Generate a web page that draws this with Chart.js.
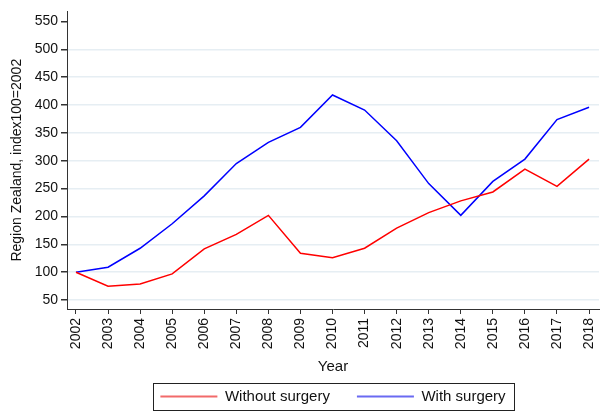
<!DOCTYPE html>
<html lang="en">
<head>
    <meta charset="UTF-8">
    <title>Region Zealand index</title>
    <script src="https://cdn.jsdelivr.net/npm/chart.js"></script>
    <style>
        body { margin: 0; background: #fff; }
        #wrap { width: 600px; height: 412px; }
    </style>
</head>
<body>
    <div id="wrap"><canvas id="chart"></canvas></div>
    <script>
        // Data
        const years = [2002, 2003, 2004, 2005, 2006, 2007, 2008, 2009, 2010,
                       2011, 2012, 2013, 2014, 2015, 2016, 2017, 2018];
        const withoutSurgery = [100, 75, 79, 97, 142, 168, 202, 134, 126,
                                143, 179, 207, 228, 244, 285, 254, 303];
        const withSurgery = [100, 109, 143, 187, 237, 295, 333, 360, 418,
                             391, 336, 259, 202, 263, 303, 374, 396];
        const yTicks = [50, 100, 150, 200, 250, 300, 350, 400, 450, 500, 550];

        const font = 'Arial, "Liberation Sans", sans-serif';
        const axisGrey = '#333';

        function toPoints(values) {
            return years.map((y, i) => ({ x: y, y: values[i] }));
        }

        // centre the legend under the plot area and draw a frame round it
        const legendFrame = {
            id: 'legendFrame',
            afterLayout(chart) {
                const area = chart.chartArea;
                const lg = chart.legend;
                const shift = (area.left + area.right) / 2 - (lg.left + lg.right) / 2;
                lg.left += shift;
                lg.right += shift;
            },
            afterDraw(chart) {
                const boxes = chart.legend.legendHitBoxes;
                if (!boxes || !boxes.length) return;
                const left = Math.min(...boxes.map(b => b.left)) - 7;
                const right = Math.max(...boxes.map(b => b.left + b.width)) + 9;
                const mid = boxes[0].top + boxes[0].height / 2;
                const ctx = chart.ctx;
                ctx.save();
                ctx.strokeStyle = '#222';
                ctx.lineWidth = 1;
                ctx.strokeRect(Math.round(left) + 0.5, Math.round(mid - 14) + 0.5,
                               Math.round(right - left), 27);
                ctx.restore();
            }
        };

        new Chart(document.getElementById('chart'), {
            type: 'line',
            data: {
                datasets: [{
                    label: 'Without surgery',
                    data: toPoints(withoutSurgery),
                    borderColor: '#ff0000',
                    backgroundColor: '#f26a6a',
                    borderWidth: 1.5,
                    pointRadius: 0,
                    tension: 0
                }, {
                    label: 'With surgery',
                    data: toPoints(withSurgery),
                    borderColor: '#0000ff',
                    backgroundColor: '#6a6af2',
                    borderWidth: 1.5,
                    pointRadius: 0,
                    tension: 0
                }]
            },
            plugins: [legendFrame],
            options: {
                responsive: true,
                maintainAspectRatio: false,
                animation: false,
                layout: { padding: { top: 8, right: 1, left: 0, bottom: -2 } },
                plugins: {
                    tooltip: { enabled: false },
                    legend: {
                        position: 'bottom',
                        labels: {
                            boxWidth: 57,
                            boxHeight: 2,
                            padding: 27,
                            color: '#111',
                            font: { family: font, size: 15 },
                            generateLabels: chart => {
                                const items = Chart.defaults.plugins.legend.labels.generateLabels(chart);
                                items.forEach(it => { it.lineWidth = 0; });
                                return items;
                            }
                        }
                    }
                },
                scales: {
                    x: {
                        type: 'linear',
                        min: 2001.72,
                        max: 2018.31,
                        afterBuildTicks: scale => {
                            scale.ticks = years.map(v => ({ value: v }));
                        },
                        afterFit: scale => {
                            scale.height = 53;
                            scale.paddingRight = 0;
                            scale.paddingLeft = 0;
                        },
                        ticks: {
                            minRotation: 90,
                            maxRotation: 90,
                            autoSkip: false,
                            color: '#111',
                            padding: 4,
                            font: { family: font, size: 14 },
                            callback: v => String(v)
                        },
                        grid: {
                            drawOnChartArea: false,
                            tickLength: 5,
                            tickColor: axisGrey
                        },
                        border: { color: axisGrey, width: 1 },
                        title: {
                            display: true,
                            text: 'Year',
                            color: '#111',
                            padding: { top: 0, bottom: -13.7 },
                            font: { family: font, size: 15 }
                        }
                    },
                    y: {
                        min: 34,
                        max: 568,
                        afterBuildTicks: scale => {
                            scale.ticks = yTicks.map(v => ({ value: v }));
                        },
                        afterFit: scale => { scale.width = 67; },
                        ticks: {
                            color: '#111',
                            padding: 3,
                            font: { family: font, size: 14 }
                        },
                        grid: {
                            color: ctx => ctx.tick && ctx.tick.value === 550 ? 'rgba(0,0,0,0)' : '#e6eef3',
                            lineWidth: 1.5,
                            tickLength: 6,
                            tickColor: axisGrey
                        },
                        border: { color: axisGrey, width: 1 },
                        title: {
                            display: true,
                            text: 'Region Zealand, index100=2002',
                            color: '#111',
                            padding: { top: 9, bottom: 0 },
                            font: { family: font, size: 14 }
                        }
                    }
                }
            }
        });
    </script>
</body>
</html>
